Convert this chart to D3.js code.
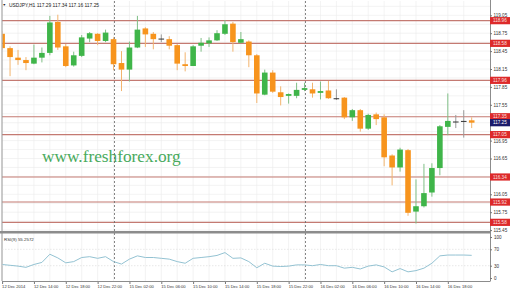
<!DOCTYPE html>
<html>
<head>
<meta charset="utf-8">
<script src="https://cdn.jsdelivr.net/npm/d3@7"></script>
<style>
body { margin: 0; background: #fff; }
svg { display: block; font-family: "Liberation Sans", Arial, sans-serif; }
</style>
</head>
<body>
<svg id="chart" width="510" height="291"></svg>
<script>
// hourly bars, 12 Dec 10:00 .. 16 Dec 21:00
const timeLabels = ["12 Dec 2014", "12 Dec 14:00", "12 Dec 18:00", "12 Dec 22:00", "15 Dec 02:00",
    "15 Dec 06:00", "15 Dec 10:00", "15 Dec 14:00", "15 Dec 18:00", "15 Dec 22:00",
    "16 Dec 02:00", "16 Dec 06:00", "16 Dec 10:00", "16 Dec 14:00", "16 Dec 18:00"];
const labelBars = [0, 4, 8, 12, 16, 20, 24, 28, 32, 36, 40, 44, 48, 52, 56];
const daySeparators = [14, 38];

const opens  = [118.74, 118.50, 118.34, 118.30, 118.24, 118.34, 118.42, 118.94, 118.53, 118.21,
                118.37, 118.66, 118.74, 118.62, 118.65, 118.25, 118.14, 118.51, 118.83, 118.74,
                118.66, 118.65, 118.55, 118.23, 118.20, 118.54, 118.58, 118.63, 118.74, 118.91,
                118.59, 118.61, 118.38, 117.72, 118.09, 117.76, 117.70, 117.70, 117.80, 117.81,
                117.75, 117.79, 117.66, 117.67, 117.34, 117.46, 117.15, 117.39, 117.34, 116.70,
                116.50, 116.79, 115.76, 115.85, 116.08, 116.49, 117.18, 117.27, 117.27, 117.29];
const highs  = [118.79, 118.53, 118.47, 118.35, 118.56, 118.51, 119.04, 119.06, 118.57, 118.44,
                118.72, 118.77, 118.75, 118.81, 118.68, 118.45, 118.61, 119.04, 118.85, 118.77,
                118.73, 118.70, 118.57, 118.43, 118.55, 118.67, 118.68, 118.80, 118.97, 118.94,
                118.77, 118.63, 118.40, 118.14, 118.13, 117.86, 117.74, 117.92, 117.92, 117.92,
                117.94, 117.95, 117.81, 117.68, 117.48, 117.48, 117.40, 117.42, 117.39, 116.72,
                116.83, 116.81, 116.30, 116.56, 116.57, 117.21, 117.74, 117.38, 117.46, 117.34];
const lows   = [118.47, 118.03, 118.22, 118.13, 118.23, 118.26, 118.38, 118.47, 118.18, 118.19,
                118.35, 118.60, 118.55, 118.60, 118.13, 117.78, 117.94, 118.50, 118.52, 118.48,
                118.60, 118.48, 118.13, 118.11, 118.20, 118.44, 118.52, 118.62, 118.72, 118.44,
                118.58, 118.18, 117.58, 117.71, 117.75, 117.54, 117.57, 117.66, 117.78, 117.67,
                117.64, 117.65, 117.63, 117.31, 117.28, 117.10, 117.13, 117.21, 116.52, 116.20,
                116.43, 115.69, 115.56, 115.83, 116.01, 116.37, 117.04, 117.16, 117.00, 117.16];
const closes = [118.50, 118.35, 118.30, 118.25, 118.34, 118.42, 118.93, 118.51, 118.20, 118.38,
                118.68, 118.75, 118.62, 118.76, 118.23, 118.14, 118.51, 118.81, 118.73, 118.65,
                118.66, 118.54, 118.24, 118.20, 118.53, 118.59, 118.63, 118.75, 118.90, 118.60,
                118.65, 118.38, 117.74, 118.09, 117.77, 117.68, 117.73, 117.80, 117.83, 117.74,
                117.78, 117.66, 117.66, 117.34, 117.46, 117.15, 117.38, 117.31, 116.67, 116.50,
                116.80, 115.74, 115.85, 116.07, 116.49, 117.19, 117.28, 117.27, 117.28, 117.25];
const rsiValues = [33, 31, 29, 26, 33, 38, 58, 49, 37, 40,
                   50, 52, 48, 52, 40, 34, 46, 54, 50, 50,
                   48, 46, 40, 36, 48, 50, 52, 55, 62, 48,
                   49, 40, 25, 36, 29, 28, 29, 32, 32, 30,
                   33, 30, 30, 24, 26, 22, 29, 32, 27, 15,
                   23, 15, 18, 24, 36, 54, 56, 56, 56, 55.26];

const levels = [118.96, 118.58, 117.96, 117.35, 117.05, 116.34, 115.92, 115.58];
const priceTicks = [119.05, 118.75, 118.45, 118.15, 117.85, 117.55, 117.25, 116.95, 116.65, 116.35, 116.05, 115.75, 115.45];
const rsiTicks = [100, 70, 30, 0];
const rsiLevels = [70, 30];
const lastPrice = 117.25;

const upColor = "#3fb549";
const downColor = "#f7941d";
const right = 490;
const mainTop = 1, mainBottom = 231;
const rsiTop = 234, rsiBottom = 281;

var chart = d3.select('#chart');

var x = d3.scaleLinear().domain([0, 59]).range([2.1, 471.7]);
var y = d3.scaleLinear().domain([115.45, 119.05]).range([230.1, 15.3]);
var yr = d3.scaleLinear().domain([0, 100]).range([278, 237]);

var bars = opens.map(function(o, i) {
    return { i: i, o: o, h: highs[i], l: lows[i], c: closes[i] };
});

chart.append('clipPath').attr('id', 'mainClip')
    .append('rect').attr('x', 2.5).attr('y', mainTop).attr('width', right - 2.5).attr('height', mainBottom - mainTop);
chart.append('clipPath').attr('id', 'rsiClip')
    .append('rect').attr('x', 2.5).attr('y', rsiTop).attr('width', right - 2.5).attr('height', rsiBottom - rsiTop);

// light grid
var gridX = d3.range(0, 60, 2);
var grid = chart.append('g').attr('stroke', '#ebebeb').attr('stroke-width', 0.6);
grid.selectAll('.gv').data(gridX).enter().append('line')
    .attr('x1', function(d) { return x(d); }).attr('x2', function(d) { return x(d); })
    .attr('y1', mainTop).attr('y2', rsiBottom);
grid.selectAll('.gh').data(d3.range(115.45, 119.3, 0.15)).enter().append('line')
    .attr('x1', 2).attr('x2', right)
    .attr('y1', function(d) { return y(d); }).attr('y2', function(d) { return y(d); });

// watermark
chart.append('text')
    .attr('x', 42).attr('y', 162)
    .style('font-family', '"Liberation Serif", "Times New Roman", serif')
    .style('font-size', '17.3px')
    .style('fill', '#48aa5c')
    .text('www.freshforex.org');

// horizontal levels
chart.append('g').selectAll('line').data(levels).enter().append('line')
    .attr('x1', 2).attr('x2', right)
    .attr('y1', function(d) { return y(d); }).attr('y2', function(d) { return y(d); })
    .attr('stroke', '#c47a72').attr('stroke-width', 1.1);

// day separators
chart.append('g').selectAll('line').data(daySeparators).enter().append('line')
    .attr('x1', function(d) { return Math.round(x(d)) + 0.5; })
    .attr('x2', function(d) { return Math.round(x(d)) + 0.5; })
    .attr('y1', mainTop).attr('y2', rsiBottom)
    .attr('stroke', '#666').attr('stroke-width', 0.8).attr('stroke-dasharray', '2,2');

// candles
var candles = chart.append('g').attr('clip-path', 'url(#mainClip)')
    .selectAll('.item').data(bars).enter().append('g').attr('class', 'item');

candles.append('line')
    .attr('x1', function(d) { return x(d.i); }).attr('x2', function(d) { return x(d.i); })
    .attr('y1', function(d) { return y(d.h); }).attr('y2', function(d) { return y(d.l); })
    .attr('stroke', function(d) {
        if (Math.abs(d.c - d.o) < 0.015) return '#9a9a9a';
        return d.c > d.o ? '#7fbf86' : '#f2b46e';
    })
    .attr('stroke-width', 1);

candles.append('rect')
    .attr('x', function(d) { return x(d.i) - 2.8; })
    .attr('width', 5.6)
    .attr('y', function(d) { return y(Math.max(d.o, d.c)); })
    .attr('height', function(d) { return Math.max(1, y(Math.min(d.o, d.c)) - y(Math.max(d.o, d.c))); })
    .style('fill', function(d) {
        if (Math.abs(d.c - d.o) < 0.015) return '#333';
        return d.c > d.o ? upColor : downColor;
    });

// main frame
chart.append('line').attr('x1', 2).attr('x2', 2).attr('y1', 0).attr('y2', rsiBottom)
    .attr('stroke', '#9a9a9a').attr('stroke-width', 1);
chart.append('rect').attr('x', 0).attr('y', mainBottom).attr('width', right).attr('height', 2.5)
    .style('fill', '#8c8c8c');

// price axis
var pAxis = chart.append('g')
    .attr('transform', 'translate(' + right + ',0)')
    .call(d3.axisRight(y).tickValues(priceTicks).tickSize(2).tickPadding(1.5).tickFormat(d3.format('.2f')));
pAxis.select('.domain').attr('stroke', '#8c8c8c').attr('d', 'M0.5,0V' + rsiBottom);
pAxis.selectAll('.tick line').attr('stroke', '#777');
pAxis.selectAll('text').style('font-size', '4.6px').style('fill', '#333').style('font-family', '"Liberation Sans", Arial, sans-serif');

// level labels
var lab = chart.append('g').selectAll('g').data(levels).enter().append('g')
    .attr('transform', function(d) { return 'translate(' + right + ',' + y(d) + ')'; });
lab.append('rect').attr('x', 0).attr('y', -3.6).attr('width', 20).attr('height', 7.2).style('fill', '#dd2a2a');
lab.append('text').attr('x', 3).attr('y', 1.7)
    .style('font-size', '4.6px').style('fill', '#fbe0e0')
    .text(function(d) { return d.toFixed(2); });

var cur = chart.append('g').attr('transform', 'translate(' + right + ',' + y(lastPrice) + ')');
cur.append('rect').attr('x', 0).attr('y', -3.6).attr('width', 20).attr('height', 7.2).style('fill', '#1b1b6b');
cur.append('text').attr('x', 3).attr('y', 1.7).style('font-size', '4.6px').style('fill', '#fff').text(lastPrice.toFixed(2));

// title
chart.append('text').attr('x', 2.5).attr('y', 6.3).style('font-size', '3.6px').style('fill', '#222').text('\u25BC');
chart.append('text').attr('x', 9).attr('y', 6.5).style('font-size', '4.9px').style('fill', '#222')
    .text('USDJPY,H1  117.29 117.34 117.16 117.25');

// RSI panel
chart.append('g').attr('stroke', '#d8d8d8').attr('stroke-width', 0.6).attr('stroke-dasharray', '1.5,1.5')
    .selectAll('line').data(rsiLevels).enter().append('line')
    .attr('x1', 2).attr('x2', right)
    .attr('y1', function(d) { return yr(d); }).attr('y2', function(d) { return yr(d); });

var rsiLine = d3.line()
    .x(function(d, i) { return x(i); })
    .y(function(d) { return yr(d); });
chart.append('path').datum(rsiValues)
    .attr('clip-path', 'url(#rsiClip)')
    .attr('d', rsiLine)
    .attr('fill', 'none').attr('stroke', '#93c2d2').attr('stroke-width', 1);

chart.append('text').attr('x', 4).attr('y', 241).style('font-size', '4.4px').style('fill', '#333')
    .text('RSI(9) 55.2572');

var rAxis = chart.append('g')
    .attr('transform', 'translate(' + right + ',0)')
    .call(d3.axisRight(yr).tickValues(rsiTicks).tickSize(2).tickPadding(2));
rAxis.select('.domain').remove();
rAxis.selectAll('.tick line').attr('stroke', '#777');
rAxis.selectAll('text').style('font-size', '4.6px').style('fill', '#333').style('font-family', '"Liberation Sans", Arial, sans-serif');

chart.append('line').attr('x1', 2).attr('x2', right + 0.5).attr('y1', rsiBottom + 0.5).attr('y2', rsiBottom + 0.5)
    .attr('stroke', '#8c8c8c').attr('stroke-width', 1);

// time axis
var tAxis = chart.append('g')
    .attr('transform', 'translate(0,' + (rsiBottom + 1) + ')')
    .call(d3.axisBottom(x).tickValues(labelBars).tickSize(2).tickPadding(1)
        .tickFormat(function(d, k) { return timeLabels[k]; }));
tAxis.select('.domain').remove();
tAxis.selectAll('.tick line').attr('stroke', '#777');
tAxis.selectAll('text').attr('text-anchor', 'start').attr('dx', -0.5)
    .style('font-size', '4.1px').style('fill', '#333').style('font-family', '"Liberation Sans", Arial, sans-serif');
</script>
</body>
</html>
